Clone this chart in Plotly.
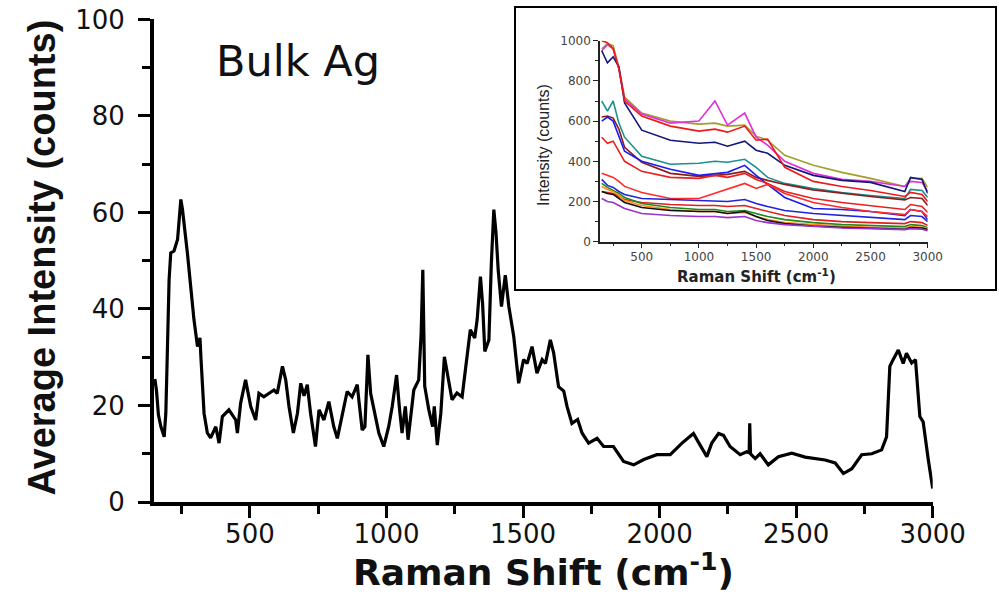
import plotly.graph_objects as go

# ---- Main spectrum: averaged Raman intensity of bulk Ag ----
raman_shift = [152, 158, 165, 174, 186, 192, 198, 204, 210, 222, 235, 247, 253, 259, 271, 283, 295,
               308, 317, 321, 332, 344, 356, 375, 387, 399, 423, 448, 454, 466, 484, 503, 521, 533,
               551, 588, 600, 619, 631, 643, 659, 674, 686, 698, 710, 722, 740, 753, 771, 789, 807,
               820, 838, 856, 874, 893, 899, 911, 921, 932, 942, 954, 972, 990, 1008, 1021, 1037,
               1048, 1057, 1069, 1079, 1100, 1118, 1127, 1133, 1140, 1155, 1169, 1175, 1186, 1199,
               1212, 1228, 1240, 1258, 1277, 1289, 1307, 1323, 1332, 1344, 1352, 1360, 1375, 1384,
               1393, 1401, 1409, 1421, 1435, 1448, 1466, 1484, 1502, 1515, 1533, 1551, 1570, 1582,
               1600, 1612, 1630, 1649, 1661, 1679, 1700, 1716, 1740, 1771, 1795, 1831, 1868, 1905,
               1942, 1990, 2039, 2082, 2124, 2142, 2173, 2191, 2216, 2234, 2258, 2295, 2319, 2328,
               2330, 2333, 2350, 2368, 2398, 2435, 2484, 2533, 2606, 2643, 2673, 2704, 2740, 2777,
               2813, 2831, 2843, 2855, 2874, 2892, 2904, 2923, 2937, 2953, 2965, 2984, 3000]
avg_intensity = [25.5, 23, 18, 15.6, 13.5, 18.4, 32, 46, 51.6, 52, 54.4, 62.7, 60.6, 57.8, 51.6, 44.7,
                 37.8, 32.2, 34, 29.5, 18.4, 14.3, 13.3, 15.6, 12.2, 17.7, 19.1, 17, 14.3, 20.5, 25.3,
                 19.8, 17, 22.5, 21.8, 23.2, 22.5, 28.1, 25.3, 19.8, 14.3, 18.4, 24.6, 22, 24.3, 18.4,
                 11.5, 19.1, 17, 20.8, 15.6, 13.2, 18.4, 22.9, 21.8, 24.3, 21, 14.9, 15.6, 30.5, 22.5,
                 19.1, 14.3, 11.5, 15.6, 19.8, 26.3, 19.1, 14.3, 19.8, 12.9, 23.2, 25.3, 35, 48.1, 24,
                 19.1, 15.6, 19.8, 11.8, 18.4, 30.1, 24.6, 21.2, 22.6, 21.8, 27.4, 35.7, 34, 37.8,
                 46.7, 41, 31.2, 33.6, 49.5, 60.6, 55.8, 48.1, 40.5, 47, 40.5, 34.3, 24.6, 29.5, 28.7,
                 32.2, 26.7, 29.5, 28.7, 33.6, 30.9, 23.9, 23, 19.8, 16.3, 17.1, 14.3, 12.2, 13.2,
                 11.5, 11.5, 8.4, 7.7, 8.8, 9.8, 9.8, 12.2, 14.2, 12.4, 9.4, 12.2, 14.2, 13.8, 11.5,
                 9.8, 10.4, 10.2, 16.3, 10, 9.0, 10, 7.7, 9.4, 10.1, 9.3, 8.7, 8.1, 5.9, 6.9, 9.8, 10,
                 10.8, 13.5, 28.1, 29.5, 31.5, 28.7, 30.8, 28.8, 29.5, 17.7, 16.6, 8.7, 2.8]

x_ticks = [500, 1000, 1500, 2000, 2500, 3000]
y_ticks = [0, 20, 40, 60, 80, 100]

# ---- Inset: individual spectra ----
inset_shift = [150, 200, 250, 300, 350, 500, 750, 1000, 1140, 1250, 1400, 1500, 1600, 1750,
               2000, 2250, 2500, 2800, 2850, 2950, 3000]
olive = [960, 985, 975, 870, 720, 640, 600, 585, 590, 575, 580, 525, 505, 430, 380, 345, 315, 275, 315, 315, 270]
magenta = [950, 980, 960, 860, 710, 635, 590, 600, 700, 580, 640, 520, 480, 400, 340, 310, 300, 275, 300, 295, 250]
navy = [950, 890, 920, 870, 690, 555, 505, 490, 495, 475, 500, 455, 440, 380, 330, 305, 295, 250, 320, 310, 240]
teal = [700, 650, 700, 590, 520, 425, 385, 390, 400, 395, 410, 370, 320, 290, 265, 245, 230, 215, 260, 255, 220]
maroon = [620, 625, 615, 560, 470, 395, 340, 325, 330, 335, 350, 320, 305, 285, 258, 240, 225, 208, 220, 215, 180]
blue_a = [600, 620, 600, 520, 450, 400, 360, 330, 340, 345, 380, 330, 285, 220, 165, 160, 150, 130, 160, 150, 110]
red_b = [520, 490, 500, 450, 400, 350, 320, 315, 330, 320, 340, 310, 290, 250, 215, 195, 180, 160, 185, 175, 145]
red_c = [340, 330, 320, 300, 275, 245, 215, 215, 240, 260, 290, 265, 285, 240, 195, 170, 150, 135, 160, 150, 125]
blue_b = [310, 280, 270, 250, 235, 215, 210, 205, 205, 200, 210, 190, 175, 155, 140, 130, 120, 110, 130, 125, 100]
red_d = [250, 245, 240, 225, 210, 195, 185, 180, 180, 175, 180, 165, 150, 130, 110, 100, 95, 90, 100, 95, 80]
green = [290, 270, 255, 240, 220, 190, 170, 160, 160, 150, 155, 140, 125, 110, 95, 85, 80, 75, 85, 80, 70]
orange = [275, 260, 250, 230, 205, 180, 160, 150, 150, 140, 145, 125, 110, 95, 85, 78, 72, 68, 75, 72, 65]
black = [250, 240, 235, 215, 195, 170, 155, 150, 150, 140, 150, 125, 105, 90, 78, 72, 68, 62, 70, 68, 60]
purple = [215, 200, 195, 180, 165, 140, 130, 125, 125, 120, 125, 105, 95, 85, 75, 68, 65, 60, 65, 62, 55]
red_a = [1000, 990, 960, 860, 700, 625, 575, 550, 560, 545, 575, 505, 510, 370, 300, 275, 255, 225, 245, 235, 200]

inset_series = [
    (olive, "#a0a028"), (magenta, "#e030d8"), (navy, "#15157a"), (teal, "#1a9090"),
    (maroon, "#8b1c1c"), (blue_a, "#1c1cf0"), (red_b, "#e82020"), (red_c, "#ff2a2a"),
    (blue_b, "#2222dd"), (red_d, "#e02020"), (green, "#1d8a1d"), (orange, "#ff8c1a"),
    (black, "#111111"), (purple, "#9a30d0"), (red_a, "#f01818"),
]

W, H = 999, 597

fig = go.Figure()
fig.add_trace(go.Scatter(x=raman_shift, y=avg_intensity, mode="lines",
                         line=dict(color="black", width=3.2), xaxis="x", yaxis="y",
                         showlegend=False, hoverinfo="skip"))
for vals, col in inset_series:
    fig.add_trace(go.Scatter(x=inset_shift, y=vals, mode="lines",
                             line=dict(color=col, width=1.6), xaxis="x2", yaxis="y2",
                             showlegend=False, hoverinfo="skip"))

tick_font = dict(family="DejaVu Sans", size=26, color="#111")
inset_font = dict(family="DejaVu Sans", size=12, color="#444")

fig.update_layout(
    width=W, height=H,
    margin=dict(l=0, r=0, t=0, b=0, pad=0, autoexpand=False),
    paper_bgcolor="white", plot_bgcolor="rgba(0,0,0,0)",
    showlegend=False,
    xaxis=dict(domain=[153.8 / W, 932.7 / W], range=[148, 3000], anchor="y", automargin=False,
               tickmode="array", tickvals=x_ticks, showgrid=False, zeroline=False,
               showline=True, linecolor="black", linewidth=3.5,
               ticks="outside", ticklen=12, tickwidth=3, tickcolor="black",
               tickfont=tick_font, ticklabelstandoff=-6,
               minor=dict(tickmode="linear", tick0=0, dtick=250, ticks="outside",
                          ticklen=8, tickwidth=3, tickcolor="black", showgrid=False)),
    yaxis=dict(domain=[(H - 502) / H, (H - 19.4) / H], range=[0, 100], anchor="x", automargin=False,
               tickmode="array", tickvals=y_ticks, showgrid=False, zeroline=False,
               showline=True, linecolor="black", linewidth=3.5,
               ticks="outside", ticklen=12, tickwidth=3, tickcolor="black",
               tickfont=tick_font, ticklabelstandoff=8,
               minor=dict(tickmode="linear", tick0=0, dtick=10, ticks="outside",
                          ticklen=8, tickwidth=3, tickcolor="black", showgrid=False)),
    xaxis2=dict(domain=[600 / W, 927.7 / W], range=[135, 3000], anchor="y2", automargin=False,
                tickmode="linear", tick0=0, dtick=500, showgrid=False, zeroline=False,
                showline=True, linecolor="#222", linewidth=1.5,
                ticks="outside", ticklen=5, tickwidth=1.2, tickcolor="#222",
                tickfont=inset_font, ticklabelstandoff=-2,
                minor=dict(tickmode="linear", tick0=0, dtick=250, ticks="outside",
                           ticklen=3, tickwidth=1.2, tickcolor="#222", showgrid=False)),
    yaxis2=dict(domain=[(H - 241.7) / H, (H - 40.7) / H], range=[0, 1000], anchor="x2",
                automargin=False,
                tickmode="linear", tick0=0, dtick=200, showgrid=False, zeroline=False,
                showline=True, linecolor="#222", linewidth=1.5,
                ticks="outside", ticklen=5, tickwidth=1.2, tickcolor="#222",
                tickfont=inset_font,
                minor=dict(tickmode="linear", tick0=0, dtick=100, ticks="outside",
                           ticklen=3, tickwidth=1.2, tickcolor="#222", showgrid=False)),
    shapes=[dict(type="rect", xref="paper", yref="paper",
                 x0=515 / W, x1=996 / W, y0=(H - 290) / H, y1=(H - 7) / H,
                 line=dict(color="black", width=2), fillcolor="white", layer="below")],
    annotations=[
        dict(text="<b>Raman Shift (cm<sup>-1</sup>)</b>", xref="paper", yref="paper",
             x=543 / W, y=(H - 570) / H, xanchor="center", yanchor="middle", showarrow=False,
             font=dict(family="DejaVu Sans", size=36, color="#111")),
        dict(text="<b>Average Intensity (counts)</b>", xref="paper", yref="paper",
             x=41.5 / W, y=(H - 258) / H, xanchor="center", yanchor="middle", showarrow=False,
             textangle=-90, font=dict(family="Liberation Sans", size=38, color="#111")),
        dict(text="Bulk Ag", xref="paper", yref="paper",
             x=214 / W, y=(H - 61) / H, xanchor="left", yanchor="middle", showarrow=False,
             font=dict(family="DejaVu Sans", size=43, color="#111")),
        dict(text="<b>Raman Shift (cm<sup>-1</sup>)</b>", xref="paper", yref="paper",
             x=756 / W, y=(H - 276) / H, xanchor="center", yanchor="middle", showarrow=False,
             font=dict(family="DejaVu Sans", size=15, color="#222")),
        dict(text="Intensity (counts)", xref="paper", yref="paper",
             x=543 / W, y=(H - 145) / H, xanchor="center", yanchor="middle", showarrow=False,
             textangle=-90, font=dict(family="Liberation Sans", size=16, color="#222")),
    ],
)

fig.write_html("out.html")
